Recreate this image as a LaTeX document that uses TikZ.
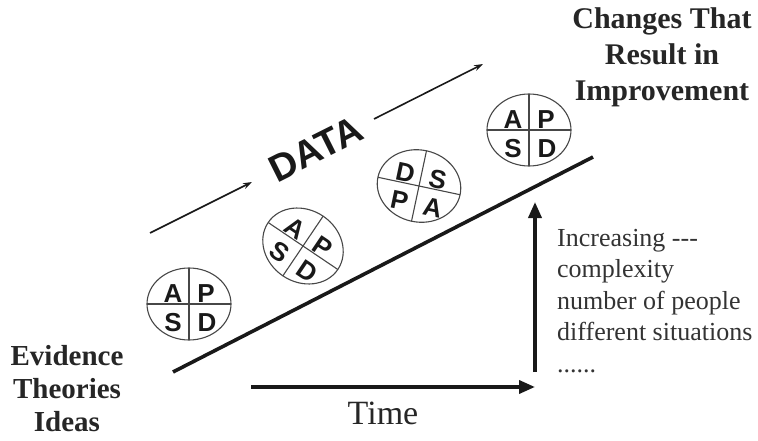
\documentclass[tikz,border=0pt]{standalone}
\usepackage{fontspec}
\setmainfont{Liberation Serif}
\newfontfamily\arialfont{Liberation Sans}
\usetikzlibrary{arrows.meta}
\begin{document}
\begin{tikzpicture}[x=1pt,y=1pt,
  pdca/.style={draw=black!72, line width=1.1pt},
  letter/.style={font=\arialfont\bfseries\fontsize{26}{26}\selectfont, inner sep=0pt, text=black!90},
  thickline/.style={line width=3.6pt, black!90},
  bigarrow/.style={line width=3.6pt, black!90, -{Triangle[length=16pt,width=13pt]}},
  dataarrow/.style={line width=1.6pt, black!90, -{Stealth[length=9pt,width=6pt]}},
  titletext/.style={font=\bfseries\fontsize{30}{36}\selectfont, align=center, text=black!85, inner sep=0pt},
  sidetext/.style={font=\bfseries\fontsize{29}{33}\selectfont, align=center, text=black!85, inner sep=0pt},
  notetext/.style={font=\fontsize{26}{31.5}\selectfont, align=left, text=black!80, inner sep=0pt, anchor=north west},
  timetext/.style={font=\fontsize{34}{34}\selectfont, text=black!85, inner sep=0pt},
  datatext/.style={font=\arialfont\bfseries\fontsize{38}{38}\selectfont, text=black!90, inner sep=0pt}
]
\useasboundingbox (0,0) rectangle (758,440);

% diagonal line
\coordinate (diagA) at (173,68);
\coordinate (diagB) at (593,283);
\draw[thickline] (diagA) -- (diagB);

% DATA arrows and text
\coordinate (d1s) at (150,207);
\coordinate (d1e) at (252,258);
\coordinate (d2s) at (374,321);
\coordinate (d2e) at (483,376);
\draw[dataarrow] (d1s) -- (d1e);
\draw[dataarrow] (d2s) -- (d2e);
\node[datatext, rotate=26.6] (data) at (316,291) {DATA};

% circle 1
\begin{scope}[shift={(189,136)}]
  \draw[pdca] (0,0) ellipse [x radius=42, y radius=36];
  \draw[pdca] (-42,0) -- (42,0) (0,-36) -- (0,36);
  \node[letter] (c1a) at (-16,10.5) {A};
  \node[letter] (c1p) at (17,10.5) {P};
  \node[letter] (c1s) at (-16,-18.5) {S};
  \node[letter] (c1d) at (18,-18.5) {D};
\end{scope}

% circle 2
\begin{scope}[shift={(303,194)}, rotate=-34]
  \draw[pdca] (0,0) ellipse [x radius=42, y radius=36];
  \draw[pdca] (-42,0) -- (42,0) (0,-36) -- (0,36);
  \node[letter, rotate=-34] (c2a) at (-16,10.5) {A};
  \node[letter, rotate=-34] (c2p) at (17,10.5) {P};
  \node[letter, rotate=-34] (c2s) at (-16,-18.5) {S};
  \node[letter, rotate=-34] (c2d) at (18,-18.5) {D};
\end{scope}

% circle 3
\begin{scope}[shift={(419,254)}, rotate=-12]
  \draw[pdca] (0,0) ellipse [x radius=42, y radius=36];
  \draw[pdca] (-42,0) -- (42,0) (0,-36) -- (0,36);
  \node[letter, rotate=-12] (c3d) at (-16,10.5) {D};
  \node[letter, rotate=-12] (c3s) at (17,10.5) {S};
  \node[letter, rotate=-12] (c3p) at (-16,-18.5) {P};
  \node[letter, rotate=-12] (c3a) at (18,-18.5) {A};
\end{scope}

% circle 4
\begin{scope}[shift={(529,310)}]
  \draw[pdca] (0,0) ellipse [x radius=42, y radius=36];
  \draw[pdca] (-42,0) -- (42,0) (0,-36) -- (0,36);
  \node[letter] (c4a) at (-16,10.5) {A};
  \node[letter] (c4p) at (17,10.5) {P};
  \node[letter] (c4s) at (-16,-18.5) {S};
  \node[letter] (c4d) at (18,-18.5) {D};
\end{scope}

% axes arrows
\coordinate (vs) at (535,68);
\coordinate (ve) at (535,238);
\coordinate (hs) at (251,53);
\coordinate (he) at (535,53);
\draw[bigarrow] (vs) -- (ve);
\draw[bigarrow] (hs) -- (he);

% texts
\node[timetext] (time) at (383,27) {Time};
\node[sidetext] (evidence) at (67,51) {Evidence\\Theories\\Ideas};
\node[titletext] (changes) at (662,383) {Changes That\\Result in\\Improvement};
\node[notetext] (note) at (557,211) {Increasing {-}{-}{-}\\complexity\\number of people\\different situations\\......};
\end{tikzpicture}
\end{document}
